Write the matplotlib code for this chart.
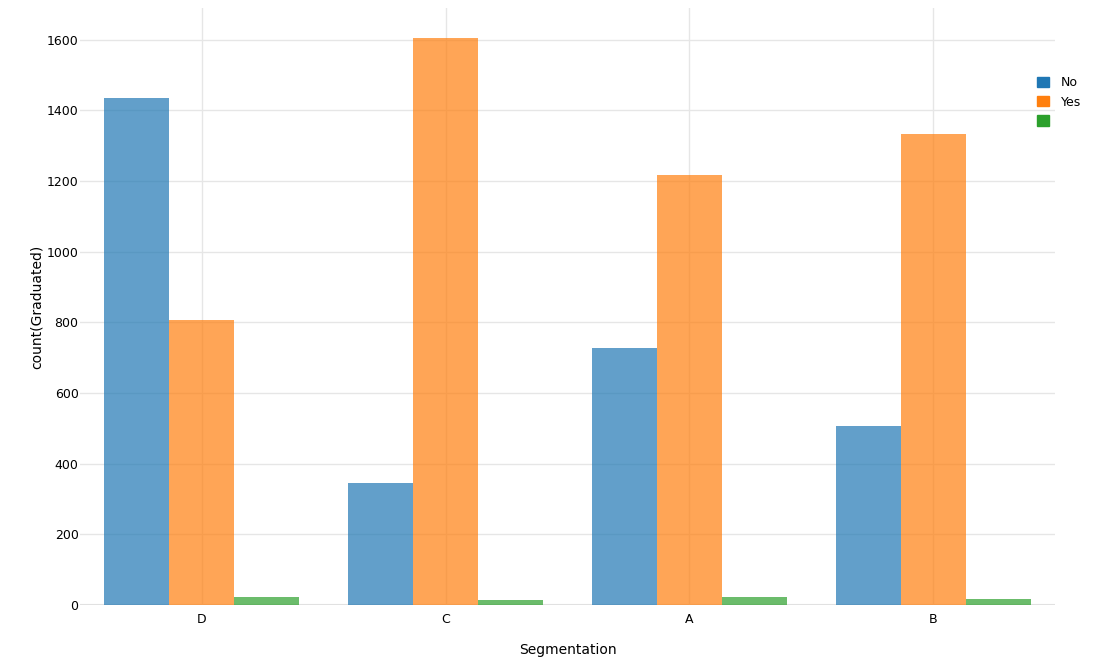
import numpy as np
import matplotlib
matplotlib.use("Agg")
import matplotlib.pyplot as plt
from matplotlib.patches import Patch

segments = ["D", "C", "A", "B"]
graduated_no = [1436, 346, 728, 507]
graduated_yes = [807, 1606, 1218, 1333]
graduated_nan = [22, 15, 24, 17]
series_names = ["No", "Yes", ""]
colors = ["#1f77b4", "#ff7f0e", "#2ca02c"]

plt.rcParams["font.family"] = ["DejaVu Sans"]

fig = plt.figure(figsize=(10.96, 6.59), dpi=100)
ax = fig.add_axes([80 / 1096, 54 / 659, 975 / 1096, 597 / 659])

x = np.arange(len(segments))
w = 0.8 / 3
for i, (vals, c) in enumerate(zip([graduated_no, graduated_yes, graduated_nan], colors)):
    ax.bar(x + (i - 1) * w, vals, width=w, color=c, alpha=0.7, linewidth=0, zorder=2)

ax.set_xlim(-0.5, len(segments) - 0.5)
ax.set_ylim(0, 1690)
ax.set_yticks(range(0, 1601, 200))
ax.set_xticks(x)
ax.set_xticklabels(segments)
ax.grid(True, color="#e6e6e6", linewidth=1, zorder=0)
ax.axhline(0, color="#e0e0e0", linewidth=1.5, zorder=1)
for s in ax.spines.values():
    s.set_visible(False)
ax.tick_params(length=0, labelsize=9)
ax.tick_params(axis="x", pad=6)
ax.tick_params(axis="y", pad=1)
ax.set_xlabel("Segmentation", fontsize=10, labelpad=12)
ax.set_ylabel("count(Graduated)", fontsize=10)
ax.yaxis.set_label_coords(-36 / 975, 0.5)

handles = [Patch(color=c, label=n) for c, n in zip(colors, series_names)]
fig.legend(handles=handles, loc="upper left", bbox_to_anchor=(1026 / 1096, 1 - 65 / 659),
           frameon=False, fontsize=9, handlelength=0.9, handleheight=0.9,
           handletextpad=1.0, labelspacing=0.5)

fig.savefig("out.png", dpi=100)
